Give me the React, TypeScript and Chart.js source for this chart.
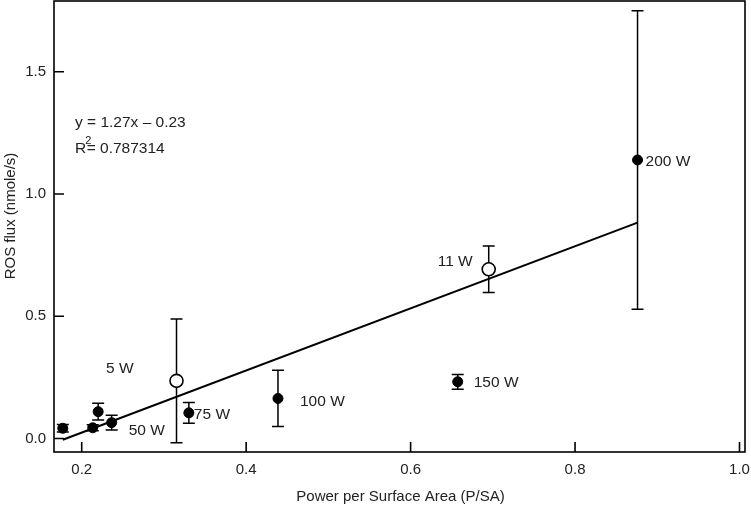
import React, { useEffect, useRef } from "react";
import { Chart, registerables } from "chart.js";

Chart.register(...registerables);

// ---- data ----
const powerX = [0.177, 0.2134, 0.22, 0.2364, 0.3153, 0.3303, 0.4387, 0.6573, 0.695, 0.876];
const rosFlux = [0.042, 0.044, 0.11, 0.065, 0.236, 0.105, 0.164, 0.232, 0.692, 1.139];
const rosError = [0.015, 0.012, 0.034, 0.03, 0.253, 0.042, 0.115, 0.03, 0.095, 0.61];
const openMarker = [false, false, false, false, true, false, false, false, true, false];
const pointLabels = ["", "", "", "50 W", "5 W", "75 W", "100 W", "150 W", "11 W", "200 W"];
const fitX = [0.177, 0.876];
const fitY = [-0.005, 0.883];
const xTicks = [0.2, 0.4, 0.6, 0.8, 1.0];
const yTicks = [0.0, 0.5, 1.0, 1.5];
const equationText = "y = 1.27x \u2013 0.23";
const r2Text = "= 0.787314";

const FONT = '"Liberation Sans", Arial, Helvetica, sans-serif';

// label placement relative to the marker (dx, dy, align)
const labelPlacement: Array<[number, number, CanvasTextAlign]> = [
  [0, 0, "left"],
  [0, 0, "left"],
  [0, 0, "left"],
  [17, 8, "left"],
  [-43, -12, "right"],
  [5, 2, "left"],
  [22, 3, "left"],
  [16, 1, "left"],
  [-16, -8, "right"],
  [8, 2, "left"],
];

const noPad = (s: any) => {
  s.paddingLeft = 0;
  s.paddingRight = 0;
  s.paddingTop = 0;
  s.paddingBottom = 0;
};

export default function App() {
  const ref = useRef<HTMLCanvasElement>(null);

  useEffect(() => {
    if (!ref.current) return;

    const overlay = {
      id: "overlay",
      beforeDatasetsDraw(chart: any) {
        const ctx = chart.ctx;
        const xs = chart.scales.x;
        const ys = chart.scales.y;
        ctx.save();
        ctx.strokeStyle = "#000";
        ctx.lineWidth = 1.5;
        for (let i = 0; i < powerX.length; i++) {
          const px = xs.getPixelForValue(powerX[i]);
          const top = ys.getPixelForValue(rosFlux[i] + rosError[i]);
          const bot = ys.getPixelForValue(rosFlux[i] - rosError[i]);
          ctx.beginPath();
          ctx.moveTo(px, top);
          ctx.lineTo(px, bot);
          ctx.moveTo(px - 6, top);
          ctx.lineTo(px + 6, top);
          ctx.moveTo(px - 6, bot);
          ctx.lineTo(px + 6, bot);
          ctx.stroke();
        }
        ctx.restore();
      },
      afterDatasetsDraw(chart: any) {
        const ctx = chart.ctx;
        const xs = chart.scales.x;
        const ys = chart.scales.y;
        const a = chart.chartArea;
        ctx.save();
        // frame
        ctx.strokeStyle = "#000";
        ctx.lineWidth = 1.6;
        ctx.strokeRect(a.left, a.top, a.right - a.left, a.bottom - a.top);
        // inward ticks
        ctx.beginPath();
        for (const v of xTicks) {
          const px = xs.getPixelForValue(v);
          ctx.moveTo(px, a.bottom);
          ctx.lineTo(px, a.bottom - 10);
        }
        for (const v of yTicks) {
          const py = ys.getPixelForValue(v);
          ctx.moveTo(a.left, py);
          ctx.lineTo(a.left + 10, py);
        }
        ctx.stroke();

        // point labels
        ctx.fillStyle = "#222";
        ctx.font = `15.5px ${FONT}`;
        ctx.textBaseline = "middle";
        for (let i = 0; i < powerX.length; i++) {
          if (!pointLabels[i]) continue;
          const [dx, dy, al] = labelPlacement[i];
          ctx.textAlign = al;
          ctx.fillText(
            pointLabels[i],
            xs.getPixelForValue(powerX[i]) + dx,
            ys.getPixelForValue(rosFlux[i]) + dy
          );
        }

        // equation annotation
        ctx.textAlign = "left";
        ctx.textBaseline = "alphabetic";
        ctx.font = `15.5px ${FONT}`;
        const ex = a.left + 21;
        ctx.fillText(equationText, ex, a.top + 126);
        ctx.fillText("R", ex, a.top + 152);
        const rw = ctx.measureText("R").width;
        ctx.font = `11px ${FONT}`;
        ctx.fillText("2", ex + rw - 1, a.top + 143);
        ctx.font = `15.5px ${FONT}`;
        ctx.fillText(r2Text, ex + rw + 0.5, a.top + 152);

        // axis titles
        ctx.font = `15px ${FONT}`;
        ctx.textAlign = "center";
        ctx.textBaseline = "middle";
        ctx.fillText("Power per Surface Area (P/SA)", (a.left + a.right) / 2 + 1, 497);
        ctx.save();
        ctx.translate(11, 216);
        ctx.rotate(-Math.PI / 2);
        ctx.fillText("ROS flux (nmole/s)", 0, 0);
        ctx.restore();
        ctx.restore();
      },
    };

    const chart = new Chart(ref.current, {
      type: "scatter",
      data: {
        datasets: [
          {
            type: "line",
            data: fitX.map((x, i) => ({ x, y: fitY[i] })),
            borderColor: "#000",
            borderWidth: 2,
            pointRadius: 0,
            fill: false,
            order: 2,
          } as any,
          {
            data: powerX.map((x, i) => ({ x, y: rosFlux[i] })),
            pointRadius: openMarker.map((o) => (o ? 6.5 : 5)),
            pointBackgroundColor: openMarker.map((o) => (o ? "#fff" : "#000")),
            pointBorderColor: "#000",
            pointBorderWidth: openMarker.map((o) => (o ? 1.6 : 1)),
            order: 1,
          } as any,
        ],
      },
      options: {
        responsive: false,
        animation: false,
        events: [],
        layout: { padding: { top: 1, right: 6, left: 0, bottom: 0 }, autoPadding: false },
        plugins: {
          legend: { display: false },
          tooltip: { enabled: false },
        },
        scales: {
          x: {
            type: "linear",
            min: 0.1663,
            max: 1.0067,
            grid: { display: false, drawTicks: false },
            border: { display: false },
            ticks: {
              padding: 9,
              color: "#222",
              font: { family: FONT, size: 15 },
              callback: (v: any) => Number(v).toFixed(1),
            },
            afterBuildTicks: (s: any) => {
              s.ticks = xTicks.map((value) => ({ value }));
            },
            afterFit: (s: any) => {
              s.height = 58;
              noPad(s);
            },
          },
          y: {
            type: "linear",
            min: -0.055,
            max: 1.789,
            grid: { display: false, drawTicks: false },
            border: { display: false },
            ticks: {
              padding: 8,
              color: "#222",
              font: { family: FONT, size: 15 },
              callback: (v: any) => Number(v).toFixed(1),
            },
            afterBuildTicks: (s: any) => {
              s.ticks = yTicks.map((value) => ({ value }));
            },
            afterFit: (s: any) => {
              s.width = 54;
              noPad(s);
            },
          },
        },
      },
      plugins: [overlay],
    });

    return () => chart.destroy();
  }, []);

  return (
    <div style={{ position: "fixed", left: 0, top: 0, width: 751, height: 510, background: "#fff" }}>
      <canvas ref={ref} width={751} height={510} style={{ display: "block" }} />
    </div>
  );
}
